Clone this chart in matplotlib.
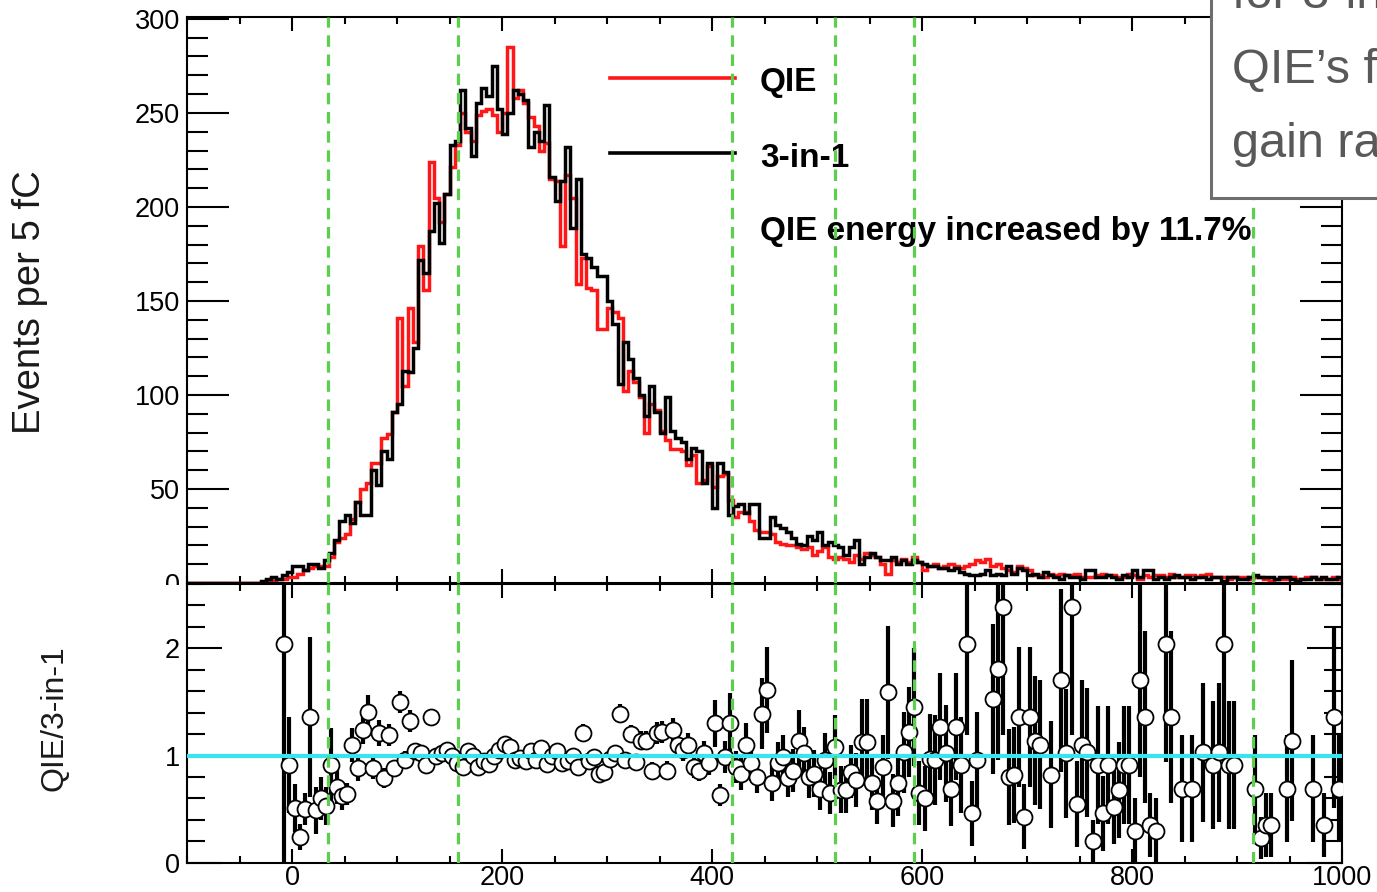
import numpy as np
import matplotlib
matplotlib.use('Agg')
import matplotlib.pyplot as plt
from matplotlib.patches import Rectangle
from matplotlib.ticker import MultipleLocator

plt.rcParams['font.family'] = ['Liberation Sans', 'DejaVu Sans']

# ---------------- data ----------------
bin_edges = np.arange(-100, 1005, 5)          # 5 fC bins, -100 .. 1000

# counts per bin; bins from -100 to -30 are empty
empty_bins = [0] * 14
qie_counts = empty_bins + [
    0, 1, 1, 2, 2, 3, 3, 5, 7, 8, 9, 9, 9, 14, 22, 24, 26, 34, 43, 50,
    53, 64, 64, 77, 79, 91, 141, 105, 146, 128, 179, 156, 224, 205, 192, 207, 221, 233, 250, 240,
    235, 249, 251, 252, 249, 240, 250, 285, 258, 262, 255, 248, 243, 230, 234, 215, 214, 179, 217, 205,
    159, 173, 157, 156, 135, 135, 146, 144, 141, 102, 113, 107, 99, 80, 95, 92, 81, 76, 71, 71,
    70, 63, 68, 53, 55, 62, 51, 57, 58, 44, 35, 38, 38, 33, 28, 27, 27, 26, 22, 21,
    20, 20, 19, 18, 19, 15, 17, 19, 14, 13, 14, 13, 11, 15, 13, 16, 15, 14, 10, 5,
    12, 11, 13, 11, 14, 11, 7, 9, 10, 8, 9, 10, 9, 8, 9, 10, 12, 11, 13, 9,
    10, 8, 7, 6, 9, 8, 7,
    4, 4, 3, 5, 4, 5, 4, 4, 5, 3, 3, 3, 4, 5, 4, 4, 3, 3, 5, 4,
    2, 4, 3, 4, 4, 3, 5, 3, 3, 4, 4, 3, 4, 5, 3, 3, 3, 2, 3, 3,
    3, 2, 3, 3, 2, 1, 2, 2, 2, 3, 2, 2, 3, 3, 2, 2, 2, 3, 2]
trin_counts = empty_bins + [
    1, 2, 3, 2, 4, 6, 9, 9, 7, 10, 10, 8, 12, 16, 23, 33, 36, 32, 43, 36,
    36, 60, 52, 70, 66, 91, 95, 113, 112, 125, 172, 165, 187, 202, 181, 207, 233, 235, 262, 242,
    227, 255, 263, 259, 275, 252, 239, 250, 262, 260, 257, 232, 240, 235, 254, 216, 203, 214, 232, 189,
    215, 175, 173, 168, 163, 163, 150, 138, 106, 128, 119, 109, 100, 89, 105, 91, 80, 99, 81, 77,
    75, 66, 72, 70, 53, 64, 40, 64, 59, 36, 41, 42, 37, 42, 42, 24, 24, 35, 31, 29,
    27, 24, 21, 20, 25, 23, 27, 20, 22, 20, 19, 15, 19, 23, 10, 14, 16, 14, 12, 12,
    14, 10, 12, 10, 12, 11, 10, 9, 9, 8, 8, 7, 8, 6, 5, 4, 4, 5, 7, 4,
    5, 4, 9, 5, 8, 7, 4,
    5, 3, 6, 4, 3, 2, 4, 3, 3, 2, 7, 7, 3, 3, 4, 3, 2, 4, 3, 7,
    3, 7, 7, 2, 3, 2, 3, 4, 3, 3, 2, 3, 3, 2, 3, 3, 1, 3, 3, 2,
    2, 3, 4, 3, 3, 3, 2, 3, 3, 2, 1, 2, 2, 3, 2, 3, 2, 2, 3]

# ratio QIE / 3-in-1 (bin centres, value, error)
ratio_x = [
    -7.5, -2.5, 2.5, 7.5, 12.5, 17.5, 22.5, 27.5, 32.5, 37.5, 42.5, 47.5, 52.5, 57.5, 62.5,
    67.5, 72.5, 77.5, 82.5, 87.5, 92.5, 97.5, 102.5, 107.5, 112.5, 117.5, 122.5, 127.5, 132.5,
    137.5, 142.5, 147.5, 152.5, 157.5, 162.5, 167.5, 172.5, 177.5, 182.5,
    187.5, 192.5, 197.5, 202.5, 207.5, 212.5, 217.5, 222.5, 227.5, 232.5,
    237.5, 242.5, 247.5, 252.5, 257.5, 262.5, 267.5, 272.5, 277.5, 282.5,
    287.5, 292.5, 297.5, 302.5, 307.5, 312.5, 317.5, 322.5, 327.5, 332.5,
    337.5, 342.5, 347.5, 352.5, 357.5, 362.5, 367.5, 372.5, 377.5, 382.5,
    387.5, 392.5, 397.5,
    402.5, 407.5, 412.5, 417.5, 422.5, 427.5, 432.5, 437.5, 442.5, 447.5,
    452.5, 457.5, 462.5, 467.5, 472.5, 477.5, 482.5, 487.5, 492.5, 497.5,
    502.5, 507.5, 512.5, 517.5, 522.5, 527.5, 532.5, 537.5, 542.5, 547.5,
    552.5, 557.5, 562.5, 567.5, 572.5, 577.5, 582.5, 587.5, 592.5, 597.5,
    602.5, 607.5, 612.5, 617.5, 622.5, 627.5, 632.5, 637.5, 642.5, 647.5,
    652.5,
    667.5, 672.5, 677.5, 682.5, 687.5, 692.5, 697.5, 702.5, 707.5, 712.5,
    722.5, 732.5, 737.5, 742.5, 747.5, 752.5, 757.5, 762.5, 767.5, 772.5,
    777.5, 782.5, 787.5, 792.5, 797.5, 802.5, 807.5, 812.5, 817.5, 822.5,
    832.5, 837.5, 847.5, 857.5, 867.5, 877.5, 882.5, 887.5, 892.5, 897.5,
    917.5, 922.5, 927.5, 932.5, 947.5, 952.5, 972.5, 982.5, 992.5, 997.5]
ratio_y = [
    2.04, 0.91, 0.51, 0.24, 0.50, 1.36, 0.49, 0.60, 0.53, 0.91, 0.71, 0.62, 0.64, 1.10, 0.88,
    1.24, 1.41, 0.88, 1.21, 0.79, 1.19, 0.88, 1.50, 0.96, 1.32, 1.04, 1.02, 0.91, 1.36,
    1.00, 1.02, 1.05, 1.00, 0.93, 0.89, 1.04, 1.00, 0.89, 0.95,
    0.92, 1.00, 1.05, 1.11, 1.08, 0.96, 0.98, 0.95, 1.04, 0.96,
    1.07, 0.92, 1.00, 1.04, 0.93, 0.95, 1.00, 0.89, 1.21, 0.95,
    0.99, 0.83, 0.85, 0.97, 1.02, 1.39, 0.96, 1.20, 0.94, 1.14,
    1.14, 0.86, 1.21, 1.22, 0.86, 1.24, 1.10, 1.05, 1.10, 0.89,
    0.86, 1.02, 0.93,
    1.30, 0.63, 0.99, 1.30, 0.89, 0.83, 1.10, 0.93, 0.80, 1.39,
    1.61, 0.74, 0.93, 0.99, 0.79, 0.86, 1.14, 1.02, 0.80, 0.83,
    0.69, 0.96, 0.65, 1.08, 0.68, 0.68, 0.85, 0.77, 1.13, 1.13,
    0.74, 0.58, 0.89, 1.59, 0.58, 0.74, 1.03, 1.22, 1.45, 0.65,
    0.60, 0.97, 0.96, 1.27, 1.02, 0.69, 1.27, 0.91, 2.04, 0.46,
    0.96,
    1.53, 1.81, 2.39, 0.80, 0.82, 1.36, 0.43, 1.36, 1.14, 1.10,
    0.82, 1.70, 1.02, 2.39, 0.55, 1.10, 1.03, 0.20, 0.91, 0.46,
    0.91, 0.52, 0.68, 0.91, 0.91, 0.30, 1.70, 1.36, 0.35, 0.30,
    2.04, 1.36, 0.69, 0.69, 1.03, 0.91, 1.03, 2.04, 0.91, 0.91,
    0.69, 0.23, 0.35, 0.35, 0.69, 1.14, 0.69, 0.35, 1.36, 0.69]
ratio_err = [
    2.04, 0.45, 0.22, 0.12, 0.15, 0.75, 0.22, 0.20, 0.18, 0.35, 0.16, 0.13, 0.10, 0.16, 0.12,
    0.13, 0.15, 0.10, 0.12, 0.09, 0.10, 0.08, 0.10, 0.08, 0.10, 0.07, 0.07, 0.07, 0.07,
    0.05, 0.05, 0.05, 0.05, 0.05, 0.05, 0.05, 0.05, 0.05, 0.05,
    0.05, 0.05, 0.05, 0.05, 0.05, 0.05, 0.05, 0.05, 0.05, 0.05,
    0.05, 0.05, 0.06, 0.05, 0.06, 0.06, 0.06, 0.06, 0.08, 0.06,
    0.06, 0.06, 0.07, 0.07, 0.07, 0.09, 0.07, 0.08, 0.07, 0.09,
    0.09, 0.08, 0.10, 0.10, 0.09, 0.11, 0.11, 0.10, 0.11, 0.10,
    0.10, 0.12, 0.11,
    0.22, 0.10, 0.15, 0.28, 0.15, 0.15, 0.20, 0.17, 0.15, 0.33,
    0.40, 0.16, 0.20, 0.20, 0.18, 0.20, 0.28, 0.25, 0.20, 0.22,
    0.20, 0.25, 0.20, 0.30, 0.22, 0.22, 0.25, 0.25, 0.40, 0.40,
    0.25, 0.22, 0.30, 0.62, 0.25, 0.30, 0.38, 0.42, 0.55, 0.30,
    0.30, 0.42, 0.42, 0.50, 0.45, 0.35, 0.50, 0.45, 0.85, 0.30,
    0.45,
    0.70, 0.85, 1.20, 0.45, 0.45, 0.65, 0.30, 0.65, 0.60, 0.60,
    0.50, 0.85, 0.60, 1.20, 0.40, 0.60, 0.60, 0.20, 0.55, 0.35,
    0.55, 0.35, 0.45, 0.55, 0.55, 0.30, 0.90, 0.80, 0.30, 0.30,
    1.10, 0.80, 0.50, 0.50, 0.65, 0.60, 0.65, 1.10, 0.60, 0.60,
    0.50, 0.20, 0.30, 0.30, 0.50, 0.75, 0.50, 0.30, 0.85, 0.50]

region_boundaries = [34, 158, 419, 517, 592, 915]

legend_labels = ["QIE", "3-in-1"]
annotation = "QIE energy increased by 11.7%"
box_lines = ["for 3-in-1", "QIE\u2019s f", "gain ra"]

# ---------------- figure ----------------
W, H = 1377, 892
fig = plt.figure(figsize=(W / 100, H / 100), dpi=100)

def fx(px):
    return px / W

def fy(py):
    return 1 - py / H

left, right = 187, 1342
ax1 = fig.add_axes([fx(left), fy(583), fx(right - left), (583 - 17) / H])
ax2 = fig.add_axes([fx(left), fy(862.7), fx(right - left), (862.7 - 584) / H])

red = '#ff1616'
green = '#5ccf4f'
cyan = '#38e4f0'

ax1.stairs(qie_counts, bin_edges, color=red, lw=2.5, zorder=2)
ax1.stairs(trin_counts, bin_edges, color='black', lw=2.5, zorder=3)
ax1.set_xlim(-100, 1000)
ax1.set_ylim(0, 301)

ax2.errorbar(ratio_x, ratio_y, yerr=ratio_err, fmt='o', ms=11.5,
             mfc='white', mec='black', mew=1.3, ecolor='black',
             elinewidth=3.0, capsize=0, zorder=3)
ax2.axhline(1.0, color=cyan, lw=3, zorder=4)
ax2.set_xlim(-100, 1000)
ax2.set_ylim(0, 2.6)

for ax in (ax1, ax2):
    for xb in region_boundaries:
        ax.axvline(xb, color=green, lw=2.3, ls=(0, (3.6, 2.4)), zorder=5)
    for sp in ax.spines.values():
        sp.set_linewidth(1.5)
    ax.xaxis.set_major_locator(MultipleLocator(200))
    ax.xaxis.set_minor_locator(MultipleLocator(50))
    ax.tick_params(which='both', direction='in', top=True, right=True,
                   width=1.5, labelsize=19.5, pad=5)
    ax.tick_params(axis='x', which='major', length=10)
    ax.tick_params(axis='x', which='minor', length=5)

ax1.yaxis.set_major_locator(MultipleLocator(50))
ax1.yaxis.set_minor_locator(MultipleLocator(10))
ax1.tick_params(axis='y', which='major', length=30)
ax1.tick_params(axis='y', which='minor', length=15)
ax1.tick_params(axis='x', labelbottom=False)

ax2.yaxis.set_major_locator(MultipleLocator(1))
ax2.yaxis.set_minor_locator(MultipleLocator(0.2))
ax2.tick_params(axis='y', which='major', length=25)
ax2.tick_params(axis='y', which='minor', length=13)
ax2.tick_params(axis='x', which='major', pad=2)

# legend drawn like ROOT's TLegend
t = ax1.transAxes
ax1.plot([0.3662, 0.4745], [0.892, 0.892], transform=t, color=red, lw=2.6)
ax1.plot([0.3662, 0.4745], [0.760, 0.760], transform=t, color='black', lw=2.6)
ax1.text(0.4961, 0.869, legend_labels[0], transform=t, fontsize=24,
         fontweight='bold', va='baseline', ha='left')
ax1.text(0.4961, 0.735, legend_labels[1], transform=t, fontsize=24,
         fontweight='bold', va='baseline', ha='left')
ax1.text(0.4961, 0.606, annotation, transform=t, fontsize=24,
         fontweight='bold', va='baseline', ha='left')

# axis titles
fig.text(fx(30), fy(302), "Events per 5 fC", rotation=90, fontsize=27.5,
         ha='center', va='center', color='#1a1a1a')
fig.text(fx(55), fy(718), "QIE/3-in-1", rotation=90, fontsize=23,
         ha='center', va='center', color='#1a1a1a')

# lower pad hides the lower half of the top panel's "0" label
fig.add_artist(Rectangle((fx(110), fy(605)), fx(185 - 110), (605 - 584.5) / H,
                         transform=fig.transFigure, facecolor='white',
                         edgecolor='none', zorder=5))

# slide text box overlapping the top-right corner
fig.add_artist(Rectangle((fx(1211), fy(198)), fx(250), 220 / H,
                         transform=fig.transFigure, facecolor='white',
                         edgecolor='#6e6e6e', lw=2.2, zorder=6))
for txt, base in zip(box_lines, [8, 83, 157]):
    fig.text(fx(1232), fy(base), txt, fontsize=35, color='#595959',
             va='baseline', ha='left', zorder=7)

fig.savefig('out.png', dpi=100)
